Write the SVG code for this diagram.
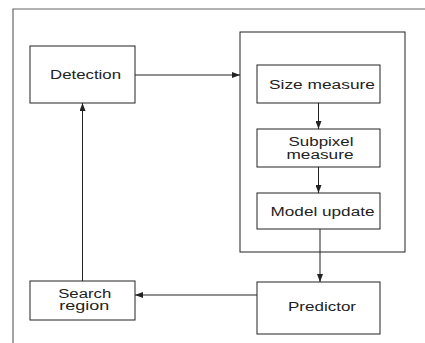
<svg xmlns="http://www.w3.org/2000/svg" width="425" height="343" viewBox="0 0 425 343">
<style>
.box{fill:#fff;stroke:#222;stroke-width:1}
.frame{fill:none;stroke:#666;stroke-width:1.2}
.edge{fill:none;stroke:#222;stroke-width:1;marker-end:url(#ah)}
text{font-family:"Liberation Sans",Arial,sans-serif;font-size:12.5px;fill:#222;text-anchor:middle}
</style>
<defs>
<marker id="ah" viewBox="0 0 8 6" refX="8" refY="3" markerWidth="8" markerHeight="6" markerUnits="userSpaceOnUse" orient="auto">
<path d="M0,0 L8,3 L0,6 Z" fill="#222"/>
</marker>
</defs>
<rect width="425" height="343" fill="#fff"/>
<path class="frame" d="M13,343 V9 H425"/>
<g id="outer"><rect class="box" x="240" y="32" width="165" height="220"/></g>
<g id="detection"><rect class="box" x="30" y="46" width="105" height="57"/><text x="85.5" y="79" textLength="71" lengthAdjust="spacingAndGlyphs">Detection</text></g>
<g id="size"><rect class="box" x="257" y="65" width="123" height="38"/><text x="322" y="89" textLength="106" lengthAdjust="spacingAndGlyphs">Size measure</text></g>
<g id="subpixel"><rect class="box" x="257" y="129" width="123" height="38"/><text x="321" y="145.5" textLength="65" lengthAdjust="spacingAndGlyphs">Subpixel</text><text x="320" y="159" textLength="67" lengthAdjust="spacingAndGlyphs">measure</text></g>
<g id="model"><rect class="box" x="257" y="193" width="123" height="36"/><text x="322.5" y="216" textLength="104" lengthAdjust="spacingAndGlyphs">Model update</text></g>
<g id="predictor"><rect class="box" x="257" y="282" width="123" height="52"/><text x="322" y="311" textLength="68" lengthAdjust="spacingAndGlyphs">Predictor</text></g>
<g id="search"><rect class="box" x="30" y="281" width="105" height="39"/><text x="84.7" y="297.5" textLength="53" lengthAdjust="spacingAndGlyphs">Search</text><text x="84.2" y="310" textLength="50" lengthAdjust="spacingAndGlyphs">region</text></g>
<g id="connectors">
<path class="edge" d="M135,75 H240"/>
<path class="edge" d="M318.5,103 V129"/>
<path class="edge" d="M318.5,167 V193"/>
<path class="edge" d="M320,229 V282"/>
<path class="edge" d="M257,295 H135"/>
<path class="edge" d="M82.5,281 V103"/>
</g>
</svg>
